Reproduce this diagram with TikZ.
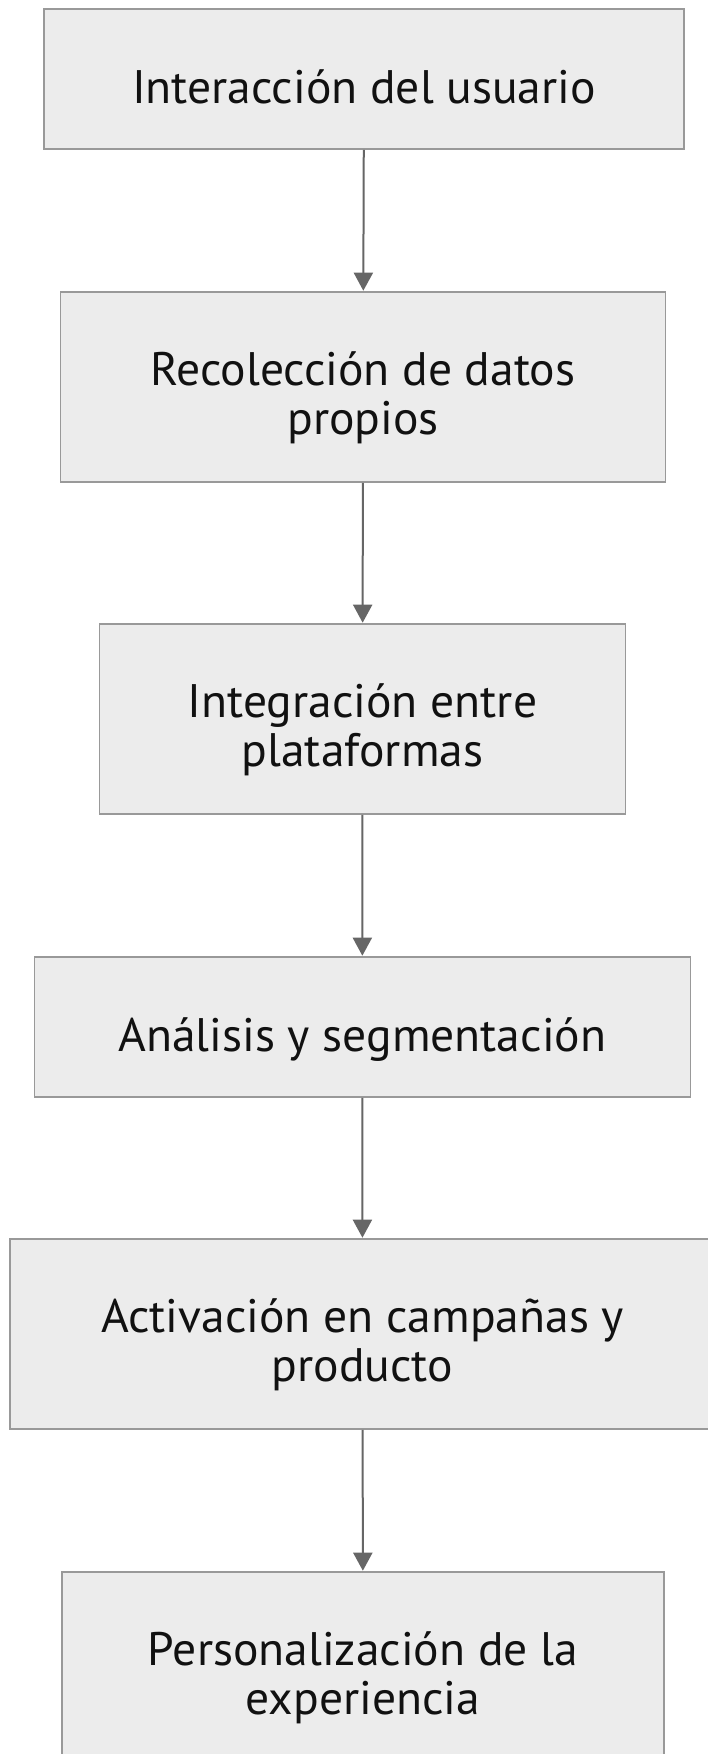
\documentclass[tikz,border=0pt]{standalone}
\usepackage{fontspec}
\setmainfont{PT Sans}[FakeStretch=1.012]
\usetikzlibrary{arrows.meta}
\definecolor{boxfill}{HTML}{ECECEC}
\definecolor{boxline}{HTML}{999999}
\definecolor{arrowcol}{HTML}{666666}
\definecolor{txt}{HTML}{111111}
\newcommand{\boxlbl}[2][21pt]{\raisebox{-#1}[0pt][0pt]{\begin{tabular}{@{}c@{}}#2\end{tabular}}}
\begin{document}
\begin{tikzpicture}[x=1pt,y=1pt,
  stepbox/.style={draw=boxline, fill=boxfill, line width=1.6pt, rectangle,
    text=txt, inner sep=0pt,
    font=\fontsize{47}{49}\selectfont},
  flow/.style={draw=arrowcol, line width=2pt, -{Triangle[length=18pt,width=19pt]}, shorten >=0.5pt}]
\useasboundingbox (0,0) rectangle (708,-1754);
\fill[white] (0,0) rectangle (708,-1754);
\node[stepbox, minimum width=640, minimum height=140] (n1) at (364,-79) {\boxlbl[21pt]{Interacción del usuario}};
\node[stepbox, minimum width=605, minimum height=190] (n2) at (363,-387) {\boxlbl[19.5pt]{Recolección de datos\\propios}};
\node[stepbox, minimum width=526, minimum height=190] (n3) at (362.5,-719) {\boxlbl[19.5pt]{Integración entre\\plataformas}};
\node[stepbox, minimum width=656, minimum height=140] (n4) at (362.3,-1027) {\boxlbl[21pt]{Análisis y segmentación}};
\node[stepbox, minimum width=705, minimum height=190] (n5) at (362.5,-1334) {\boxlbl[19.5pt]{Activación en campañas y\\producto}};
\node[stepbox, minimum width=602, minimum height=190] (n6) at (363,-1667) {\boxlbl[19.5pt]{Personalización de la\\experiencia}};
\draw[flow] (n1) -- (n2);
\draw[flow] (n2) -- (n3);
\draw[flow] (n3) -- (n4);
\draw[flow] (n4) -- (n5);
\draw[flow] (n5) -- (n6);
\end{tikzpicture}
\end{document}
